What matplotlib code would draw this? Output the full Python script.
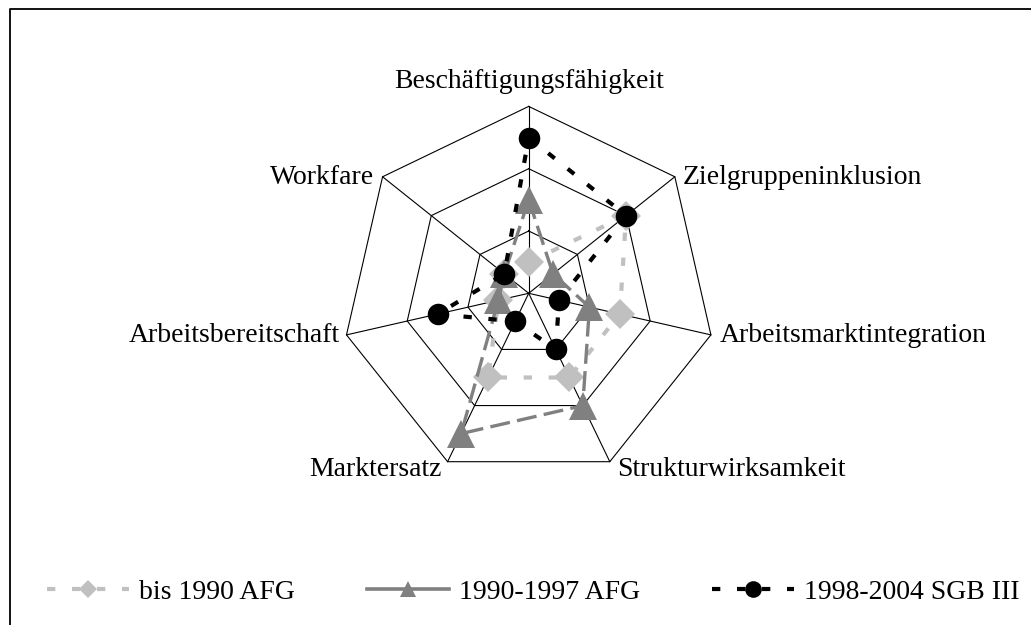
import numpy as np
import matplotlib
matplotlib.use("Agg")
import matplotlib.pyplot as plt
from matplotlib.lines import Line2D

# ---------------- data ----------------
categories = ["Beschäftigungsfähigkeit", "Zielgruppeninklusion", "Arbeitsmarktintegration",
              "Strukturwirksamkeit", "Marktersatz", "Arbeitsbereitschaft", "Workfare"]
series_names = ["bis 1990 AFG", "1990-1997 AFG", "1998-2004 SGB III"]
bis_1990_afg = [0.5, 2, 1.5, 1.5, 1.5, 0.5, 0.5]
afg_1990_1997 = [1.5, 0.5, 1, 2, 2.5, 0.5, 0.5]
sgb3_1998_2004 = [2.5, 2, 0.5, 1, 0.5, 1.5, 0.5]
ring_levels = [1, 2, 3]

plt.rcParams['font.family'] = ['Liberation Serif', 'DejaVu Serif']

W, H, DPI = 1031, 625, 100
fig = plt.figure(figsize=(W / DPI, H / DPI), dpi=DPI)
ax = fig.add_axes([0, 0, 1, 1])
cx, cy, unit = 528.7, 293.3, 62.3
ax.set_xlim(-cx / unit, (W - cx) / unit)
ax.set_ylim(-(H - cy) / unit, cy / unit)
ax.axis('off')

n = len(categories)
ang = np.pi / 2 - 2 * np.pi * np.arange(n) / n


def to_xy(vals):
    v = np.asarray(vals, float)
    x = v * np.cos(ang)
    y = v * np.sin(ang)
    return np.append(x, x[0]), np.append(y, y[0])


# grid rings and spokes
for lv in ring_levels:
    gx, gy = to_xy([lv] * n)
    ax.plot(gx, gy, color='black', lw=0.8, zorder=1)
rmax = max(ring_levels)
for a in ang:
    ax.plot([0, rmax * np.cos(a)], [0, rmax * np.sin(a)], color='black', lw=0.8, zorder=1)

# series
styles = [
    dict(color='#C0C0C0', marker='D', ms=15, lw=3, dashes=(2, 4)),
    dict(color='#808080', marker='^', ms=20.5, lw=2.4, dashes=(6, 2.2)),
    dict(color='black', marker='o', ms=15.5, lw=3, dashes=(2, 4)),
]
all_series = [bis_1990_afg, afg_1990_1997, sgb3_1998_2004]
for i, (vals, st) in enumerate(zip(all_series, styles)):
    sx, sy = to_xy(vals)
    ax.plot(sx, sy, color=st['color'], lw=st['lw'], dashes=st['dashes'],
            dash_capstyle='butt', zorder=2 + 2 * i)
    ax.plot(sx[:-1], sy[:-1], linestyle='none', marker=st['marker'], ms=st['ms'],
            color=st['color'], markeredgewidth=0, zorder=3 + 2 * i)

# category labels (ha, dx px, dy px)
label_pos = [('center', 0, 18.7), ('left', 8, -7.6), ('left', 9, -7.4),
             ('left', 7, -14.5), ('right', -6, -14.5), ('right', -7, -7.4),
             ('right', -8, -7.6)]
for cat, a, (ha, dx, dy) in zip(categories, ang, label_pos):
    ax.annotate(cat, (rmax * np.cos(a), rmax * np.sin(a)), xytext=(dx, dy),
                textcoords='offset pixels', ha=ha, va='baseline', fontsize=20,
                color='black')

# legend
handles = [
    Line2D([], [], color='#C0C0C0', lw=3, dashes=(2, 4), marker='D', ms=9,
           markeredgewidth=0),
    Line2D([], [], color='#808080', lw=2.6, linestyle='-', marker='^', ms=11,
           markeredgewidth=0),
    Line2D([], [], color='black', lw=3, dashes=(2, 4), marker='o', ms=12,
           markeredgewidth=0),
]
fig.legend(handles, series_names, loc='center left', bbox_to_anchor=(47 / W, (H - 592) / H),
           ncol=3, frameon=False, fontsize=20, handlelength=2.95, handletextpad=0.36,
           columnspacing=2.6, borderpad=0, borderaxespad=0)

# partial frame (top and left)
fig.add_artist(Line2D([9.5 / W, 9.5 / W, 1], [0, 1 - 8.5 / H, 1 - 8.5 / H],
                      transform=fig.transFigure, color='black', lw=1.3))

fig.savefig('out.png', dpi=DPI)
